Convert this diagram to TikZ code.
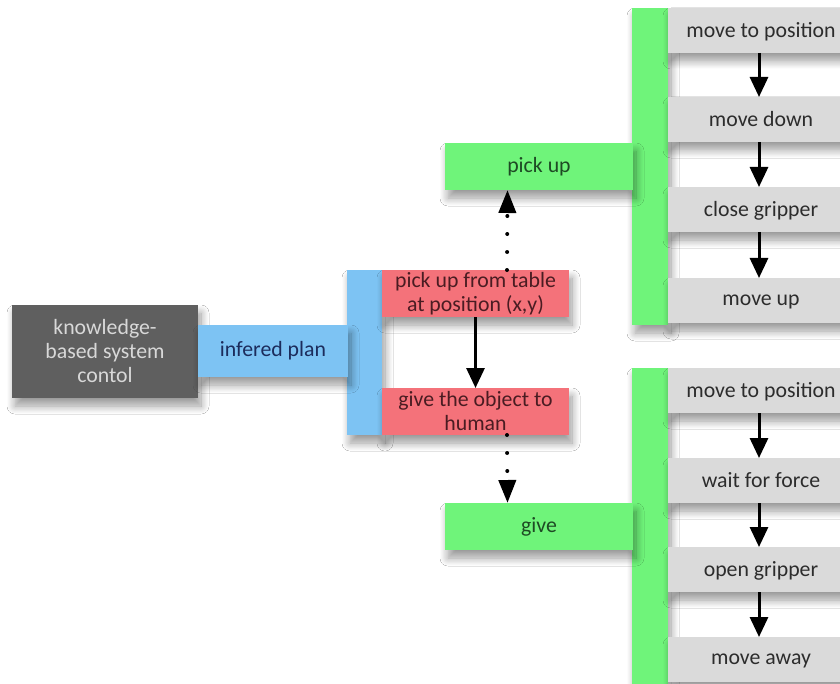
\documentclass[tikz,border=0pt]{standalone}
\usepackage{fontspec}
\setmainfont{Carlito}
\usetikzlibrary{arrows.meta,shadows.blur}

\definecolor{ctrlgrey}{HTML}{5F5F5F}
\definecolor{ctrltext}{HTML}{D8D8D8}
\definecolor{planblue}{HTML}{7DC3F3}
\definecolor{plantext}{HTML}{1C2C5C}
\definecolor{taskred}{HTML}{F4727A}
\definecolor{tasktext}{HTML}{4A1C22}
\definecolor{skillgreen}{HTML}{6FF47A}
\definecolor{skilltext}{HTML}{1E4A24}
\definecolor{stepgrey}{HTML}{DADADA}
\definecolor{steptext}{HTML}{2C2C2C}

\tikzset{
  x=0.5pt, y=-0.5pt,
  sz/.style 2 args={minimum width=#1*0.5pt, minimum height=#2*0.5pt},
  block/.style={anchor=north west, inner sep=0pt, outer sep=0pt, draw=none,
    align=center, font=\fontsize{10.9}{12}\selectfont,
    blur shadow={shadow xshift=1.5pt, shadow yshift=-4pt, shadow blur radius=4pt,
      shadow opacity=40, shadow blur steps=10}},
  ctrl/.style={block, fill=ctrlgrey, text=ctrltext},
  plan/.style={block, fill=planblue, text=plantext},
  task/.style={block, fill=taskred, text=tasktext},
  skill/.style={block, fill=skillgreen, text=skilltext},
  stepbox/.style={block, fill=stepgrey, text=steptext, sz={186}{45},
    text depth=0.5pt},
  flow/.style={-{Triangle[width=9pt,length=10pt]}, line width=1.5pt, black},
  hint/.style={-{Triangle[width=8.5pt,length=11.5pt]}, line width=2pt, black,
    line cap=round, dash pattern=on 0pt off 9pt},
}

\begin{document}
\begin{tikzpicture}
\useasboundingbox (0,0) rectangle (840,684);
\clip (0,0) rectangle (840,684);
\fill[white] (0,0) rectangle (840,684);

% control block and the inferred plan
\node[ctrl, sz={186}{93}] (ctrl) at (12,305) {knowledge-\\based system\\contol};
\node[plan, sz={35}{165}] (planbar) at (347,270) {};
\node[plan, sz={150}{52}] (plan) at (198,325) {infered plan};
\node[task, sz={187}{47}] (r1) at (382,270) {pick up from table\\at position (x,y)};
\node[task, sz={187}{47}] (r2) at (382,388) {give the object to\\human};

% skills
\node[skill, sz={36}{317}] (pickbar) at (632,8) {};
\node[skill, sz={188}{47}] (pick) at (445,143) {pick up};
\node[skill, sz={36}{330}] (givebar) at (632,368) {};
\node[skill, sz={188}{47}] (give) at (445,503) {give};

% pick-up steps
\node[stepbox] (p1) at (668,8) {move to position};
\node[stepbox] (p2) at (668,97) {move down};
\node[stepbox] (p3) at (668,187) {close gripper};
\node[stepbox] (p4) at (668,278) {move up};

% give steps
\node[stepbox] (g1) at (668,368) {move to position};
\node[stepbox] (g2) at (668,458) {wait for force};
\node[stepbox] (g3) at (668,547) {open gripper};
\node[stepbox] (g4) at (668,637) {move away};

% connectors
\draw[flow] (r1.south) -- (r2.north);
\draw[hint] ([xshift=15.75pt]r1.north) -- ([xshift=-15.75pt]pick.south);
\draw[hint] ([xshift=15.75pt]r2.south) -- ([xshift=-15.75pt]give.north);

\foreach \a/\b in {p1/p2,p2/p3,p3/p4,g1/g2,g2/g3,g3/g4}
  \draw[flow] ([xshift=-1pt]\a.south) -- ([xshift=-1pt]\b.north);
\end{tikzpicture}
\end{document}
